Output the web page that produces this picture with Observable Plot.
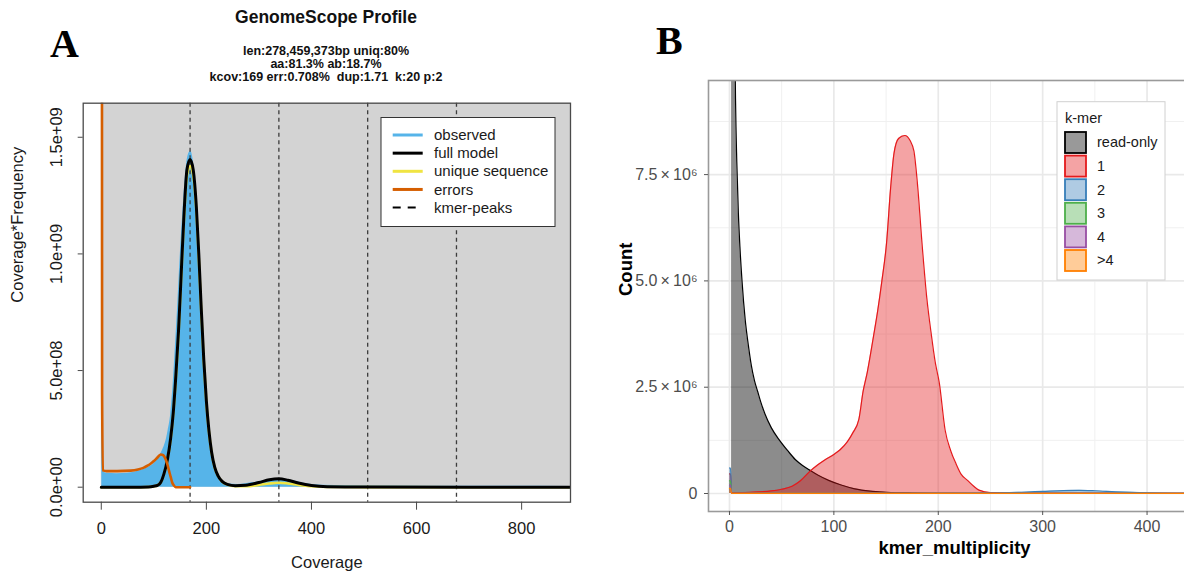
<!DOCTYPE html>
<html><head><meta charset="utf-8">
<script src="https://cdn.jsdelivr.net/npm/d3@7"></script>
<script src="https://cdn.jsdelivr.net/npm/@observablehq/plot@0.6"></script>
<style>
html,body{margin:0;padding:0;background:#fff;}
body{width:1184px;height:577px;overflow:hidden;position:relative;font-family:"Liberation Sans",Arial,Helvetica,sans-serif;color:#1a1a1a;}
.abs{position:absolute;}
.panel{font:bold 40px/1 "Liberation Serif","Times New Roman",serif;color:#000;}
</style></head><body>
<div id="panelA" class="abs" style="left:0;top:0;width:600px;height:577px"></div>
<div id="panelB" class="abs" style="left:600px;top:0;width:600px;height:577px"></div>
<div id="letterA" class="abs panel" style="left:50px;top:23.5px"></div>
<div id="letterB" class="abs panel" style="left:656px;top:21px"></div>
<div id="titleA" class="abs" style="left:126px;top:9px;width:400px;text-align:center;font:bold 17.5px/1 'Liberation Sans',Arial,sans-serif;color:#111"></div>
<div id="subA" class="abs" style="left:126px;top:44.5px;width:400px;text-align:center;font:bold 12.5px/13px 'Liberation Sans',Arial,sans-serif;white-space:pre;color:#111"></div>
<script>
// ---------------- Panel A (GenomeScope) data ----------------
const panelLetters = ["A", "B"];
const titleA = "GenomeScope Profile";
const subtitleA = ["len:278,459,373bp uniq:80%", "aa:81.3% ab:18.7%", "kcov:169 err:0.708%  dup:1.71  k:20 p:2"];
const xLabelA = "Coverage";
const yLabelA = "Coverage*Frequency";
const xTicksA = [0, 200, 400, 600, 800];
const yTicksA = [0, 0.5, 1.0, 1.5];               // units of 1e9
const yTickLabelsA = ["0.0e+00", "5.0e+08", "1.0e+09", "1.5e+09"];
const xDomainA = [-34.4, 893];
const yDomainA = [-0.0643, 1.646];
const bgA = [{x1: 0, x2: 945, y1: 0, y2: 1.74}];
const kmerPeaks = [169, 338, 507, 676];

const covObserved = [1, 2, 3, 10, 30, 50, 70, 90, 100, 110, 117, 122, 127, 132, 137, 141, 145, 150, 155, 160, 165, 170, 175, 180, 185, 190, 195, 200, 205, 210, 215, 220, 228, 240, 260, 290, 320, 338, 360, 390, 420, 470, 550, 700, 893];
const freqObserved = [4.0, 0.5, 0.07, 0.06, 0.058, 0.06, 0.068, 0.085, 0.1, 0.13, 0.16, 0.19, 0.24, 0.31, 0.45, 0.6, 0.76, 0.98, 1.17, 1.33, 1.42, 1.44, 1.4, 1.28, 1.08, 0.78, 0.55, 0.36, 0.24, 0.15, 0.085, 0.055, 0.03, 0.015, 0.012, 0.02, 0.03, 0.035, 0.03, 0.015, 0.008, 0.006, 0.005, 0.004, 0.003];

const covModel = [0, 60, 90, 100, 107, 113, 119, 126, 132, 137, 142, 147, 151, 157, 163, 169, 175, 181, 186, 190, 195, 200, 205, 210, 216, 222, 230, 240, 255, 275, 300, 320, 338, 355, 375, 400, 430, 500, 893];
const freqModel = [0, 0, 0.001, 0.004, 0.008, 0.02, 0.055, 0.12, 0.21, 0.32, 0.48, 0.67, 0.86, 1.15, 1.36, 1.405, 1.36, 1.2, 0.98, 0.78, 0.55, 0.37, 0.24, 0.15, 0.085, 0.05, 0.025, 0.012, 0.006, 0.008, 0.02, 0.032, 0.036, 0.03, 0.018, 0.007, 0.002, 0.0005, 0];
const freqUnique = [0, 0, 0.001, 0.004, 0.008, 0.02, 0.054, 0.118, 0.205, 0.315, 0.47, 0.655, 0.845, 1.13, 1.335, 1.378, 1.335, 1.18, 0.96, 0.765, 0.54, 0.362, 0.235, 0.147, 0.083, 0.049, 0.024, 0.011, 0.004, 0.004, 0.01, 0.016, 0.019, 0.016, 0.01, 0.004, 0.001, 0.0003, 0];

const covErrors = [1, 1.6, 3, 10, 30, 56, 70, 80, 88, 95, 100, 106, 113, 118, 122.5, 126, 129, 132, 135, 138, 141.5, 150, 169];
const freqErrors = [3.5, 0.4, 0.072, 0.069, 0.069, 0.071, 0.076, 0.083, 0.092, 0.103, 0.112, 0.125, 0.14, 0.137, 0.12, 0.097, 0.07, 0.045, 0.02, 0.008, 0, 0, 0];

const legendLabelsA = ["observed", "full model", "unique sequence", "errors", "kmer-peaks"];
const legendColorsA = ["#56B4E9", "#000000", "#F0E442", "#D55E00", "#000000"];

// ---------------- Panel B (k-mer spectrum) data ----------------
const xLabelB = "kmer_multiplicity";
const yLabelB = "Count";
const xTicksB = [0, 100, 200, 300, 400];
const xMinorB = [50, 150, 250, 350, 450];
const yTicksB = [0, 2.5, 5.0, 7.5];               // units of 1e6
const yMinorB = [1.25, 3.75, 6.25, 8.75];
const yTickLabelsB = ["0", "2.5\u2009×\u200910\u2076", "5.0\u2009×\u200910\u2076", "7.5\u2009×\u200910\u2076"];
const xDomainB = [-20.1, 451.2];
const yDomainB = [-0.423, 9.713];

const covReadOnly = [2, 2.5, 3, 4, 5, 5.8, 7, 8.5, 10, 12, 15, 18, 21, 24, 27, 30, 34, 40, 48, 56, 63, 70, 77, 85, 95, 107, 120, 135, 150, 175, 200, 230, 260, 300, 451];
const countReadOnly = [60, 40, 25, 15, 11, 9.25, 7.8, 6.6, 5.8, 5.0, 4.1, 3.5, 3.0, 2.65, 2.4, 2.15, 1.87, 1.55, 1.25, 1.0, 0.8, 0.66, 0.55, 0.43, 0.31, 0.2, 0.11, 0.055, 0.03, 0.012, 0.005, 0.002, 0.001, 0.0005, 0];

const cov1 = [0, 1, 2, 5, 20, 40, 50, 60, 68, 77, 85, 92, 100, 106, 113, 118, 124, 128, 132, 138, 142, 146, 150.5, 154.4, 157.6, 162, 168, 173, 176.7, 180, 184.7, 189, 193, 197, 201, 206.5, 212, 217, 222, 228, 234, 239, 250, 270, 300, 451];
const count1 = [0.46, 0.46, 0.02, 0.02, 0.03, 0.06, 0.1, 0.17, 0.3, 0.52, 0.68, 0.8, 0.92, 1.03, 1.22, 1.42, 1.75, 2.4, 2.85, 3.7, 4.3, 5.0, 5.9, 7.2, 8.0, 8.35, 8.42, 8.3, 8.05, 7.3, 5.8, 4.6, 3.8, 3.1, 2.6, 1.5, 1.0, 0.7, 0.45, 0.31, 0.17, 0.08, 0.02, 0.01, 0.01, 0.005];

const cov2 = [0, 1, 2, 100, 200, 250, 280, 300, 320, 335, 350, 370, 400, 430, 451];
const count2 = [0.6, 0.6, 0.005, 0.004, 0.005, 0.01, 0.03, 0.05, 0.07, 0.075, 0.065, 0.04, 0.015, 0.006, 0.004];
const cov3 = [0, 1, 2, 451];
const count3 = [0.3, 0.3, 0.003, 0.001];
const cov4 = [0, 1, 2, 451];
const count4 = [0.2, 0.2, 0.002, 0.001];
const cov5 = [0, 1, 2, 451];
const count5 = [0.12, 0.12, 0.004, 0.003];

const legendTitleB = "k-mer";
const legendLabelsB = ["read-only", "1", "2", "3", "4", ">4"];
const colorsB = ["#000000", "#E41A1C", "#377EB8", "#4DAF4A", "#984EA3", "#FF7F00"];

// ---------------- build ----------------
const rows = (xs, ys) => xs.map((x, i) => ({x, y: ys[i]}));

document.getElementById("letterA").textContent = panelLetters[0];
document.getElementById("letterB").textContent = panelLetters[1];
document.getElementById("titleA").textContent = titleA;
document.getElementById("subA").textContent = subtitleA.join("\n");

const plotA = Plot.plot({
  width: 600, height: 577,
  marginLeft: 82.7, marginRight: 30, marginTop: 102.7, marginBottom: 75.3,
  x: {domain: xDomainA},
  y: {domain: yDomainA},
  style: {background: "transparent", fontFamily: "'Liberation Sans', Arial, sans-serif", fontSize: "16.5px", color: "#1a1a1a", overflow: "visible"},
  marks: [
    Plot.rect(bgA, {x1: "x1", x2: "x2", y1: "y1", y2: "y2", fill: "#d3d3d3", clip: true}),
    Plot.areaY(rows(covObserved, freqObserved), {x: "x", y: "y", fill: "#56B4E9", curve: "monotone-x", clip: true}),
    Plot.ruleX(kmerPeaks, {stroke: "#3c3c3c", strokeWidth: 1.3, strokeDasharray: "4,3.5"}),
    Plot.line(rows(covModel, freqUnique), {x: "x", y: "y", stroke: "#F0E442", strokeWidth: 2.6, curve: "monotone-x", clip: true}),
    Plot.line(rows(covModel, freqModel), {x: "x", y: "y", stroke: "#000", strokeWidth: 3, curve: "monotone-x", clip: true}),
    Plot.line(rows(covErrors, freqErrors), {x: "x", y: "y", stroke: "#D55E00", strokeWidth: 2.6, curve: "monotone-x", clip: true}),
    Plot.frame({stroke: "#4a4a4a", strokeWidth: 1.3}),
    Plot.axisX({ticks: xTicksA, tickFormat: d => String(d), tickSize: 8, tickPadding: 12, label: null, stroke: "#4a4a4a"}),
    Plot.axisY({ticks: yTicksA, tickFormat: d => yTickLabelsA[yTicksA.indexOf(d)], tickSize: 5, tickPadding: 16, tickRotate: -90, label: null, stroke: "#4a4a4a"}),
    Plot.text([xLabelA], {text: d => d, frameAnchor: "bottom", dy: 65.5, fontSize: 16.5}),
    Plot.text([yLabelA], {text: d => d, frameAnchor: "left", dx: -65, rotate: -90, fontSize: 16.5})
  ]
});
document.getElementById("panelA").appendChild(plotA);

const seriesB = [
  [covReadOnly, countReadOnly, 0.45],
  [cov1, count1, 0.4],
  [cov2, count2, 0.4],
  [cov3, count3, 0.4],
  [cov4, count4, 0.4],
  [cov5, count5, 0.4]
];
const seriesMarks = [];
seriesB.forEach(([xs, ys, op], i) => {
  const d = rows(xs, ys);
  seriesMarks.push(Plot.areaY(d, {x: "x", y: "y", fill: colorsB[i], fillOpacity: op, curve: "monotone-x", clip: true}));
  seriesMarks.push(Plot.line(d, {x: "x", y: "y", stroke: colorsB[i], strokeWidth: 1.2, curve: "monotone-x", clip: true}));
});

const plotB = Plot.plot({
  width: 600, height: 577,
  marginLeft: 108, marginRight: 0, marginTop: 80, marginBottom: 66,
  x: {domain: xDomainB},
  y: {domain: yDomainB},
  style: {background: "transparent", fontFamily: "'Liberation Sans', Arial, sans-serif", fontSize: "16px", color: "#4d4d4d", overflow: "visible"},
  marks: [
    Plot.gridX({ticks: xMinorB, stroke: "#f0f0f0", strokeOpacity: 1, strokeWidth: 1}),
    Plot.gridY({ticks: yMinorB, stroke: "#f0f0f0", strokeOpacity: 1, strokeWidth: 1}),
    Plot.gridX({ticks: xTicksB, stroke: "#e9e9e9", strokeOpacity: 1, strokeWidth: 1.7}),
    Plot.gridY({ticks: yTicksB, stroke: "#e9e9e9", strokeOpacity: 1, strokeWidth: 1.7}),
    ...seriesMarks,
    Plot.frame({stroke: "#9a9a9a", strokeWidth: 1.6}),
    Plot.axisX({ticks: xTicksB, tickFormat: d => String(d), tickSize: 4, tickPadding: 5, label: null, stroke: "#555", fill: "#4d4d4d"}),
    Plot.axisY({ticks: yTicksB, tickFormat: d => yTickLabelsB[yTicksB.indexOf(d)], tickSize: 4, tickPadding: 7, label: null, stroke: "#555", fill: "#4d4d4d"}),
    Plot.text([xLabelB], {text: d => d, frameAnchor: "bottom", dy: 42, fontSize: 18.5, fontWeight: "bold", fill: "#000"}),
    Plot.text([yLabelB], {text: d => d, frameAnchor: "left", dx: -82.3, rotate: -90, fontSize: 18.5, fontWeight: "bold", fill: "#000"})
  ]
});
document.getElementById("panelB").appendChild(plotB);

// ---------------- legends (overlay) ----------------
const ov = d3.select("body").append("svg")
  .attr("width", 1184).attr("height", 577)
  .style("position", "absolute").style("left", "0px").style("top", "0px")
  .style("font-family", "'Liberation Sans', Arial, sans-serif");

// Legend A
const gA = ov.append("g");
gA.append("rect").attr("x", 381).attr("y", 117.5).attr("width", 174).attr("height", 109)
  .attr("fill", "#fff").attr("stroke", "#333").attr("stroke-width", 1);
legendLabelsA.forEach((lab, i) => {
  const y = 135 + i * 18.15;
  gA.append("line").attr("x1", 392.7).attr("x2", 422.7).attr("y1", y).attr("y2", y)
    .attr("stroke", legendColorsA[i]).attr("stroke-width", i === 4 ? 2 : 3)
    .attr("stroke-dasharray", i === 4 ? "8,7" : null);
  gA.append("text").attr("x", 434).attr("y", y).attr("dy", "0.34em")
    .attr("font-size", 15).attr("fill", "#1a1a1a").text(lab);
});

// Legend B
const gB = ov.append("g");
gB.append("rect").attr("x", 1057).attr("y", 101.7).attr("width", 108).attr("height", 178.3)
  .attr("fill", "#fff").attr("stroke", "#d0d0d0").attr("stroke-width", 1);
gB.append("text").attr("x", 1065).attr("y", 123.3).attr("font-size", 14.5).attr("fill", "#1a1a1a").text(legendTitleB);
legendLabelsB.forEach((lab, i) => {
  const cy = 142.5 + i * 23.6;
  gB.append("rect").attr("x", 1065).attr("y", cy - 10.5).attr("width", 21).attr("height", 21)
    .attr("fill", "#fff");
  gB.append("rect").attr("x", 1065).attr("y", cy - 10.5).attr("width", 21).attr("height", 21)
    .attr("fill", colorsB[i]).attr("fill-opacity", 0.4)
    .attr("stroke", colorsB[i]).attr("stroke-width", 1.8);
  gB.append("text").attr("x", 1097).attr("y", cy).attr("dy", "0.34em")
    .attr("font-size", 14.5).attr("fill", "#1a1a1a").text(lab);
});
</script>
</body></html>
